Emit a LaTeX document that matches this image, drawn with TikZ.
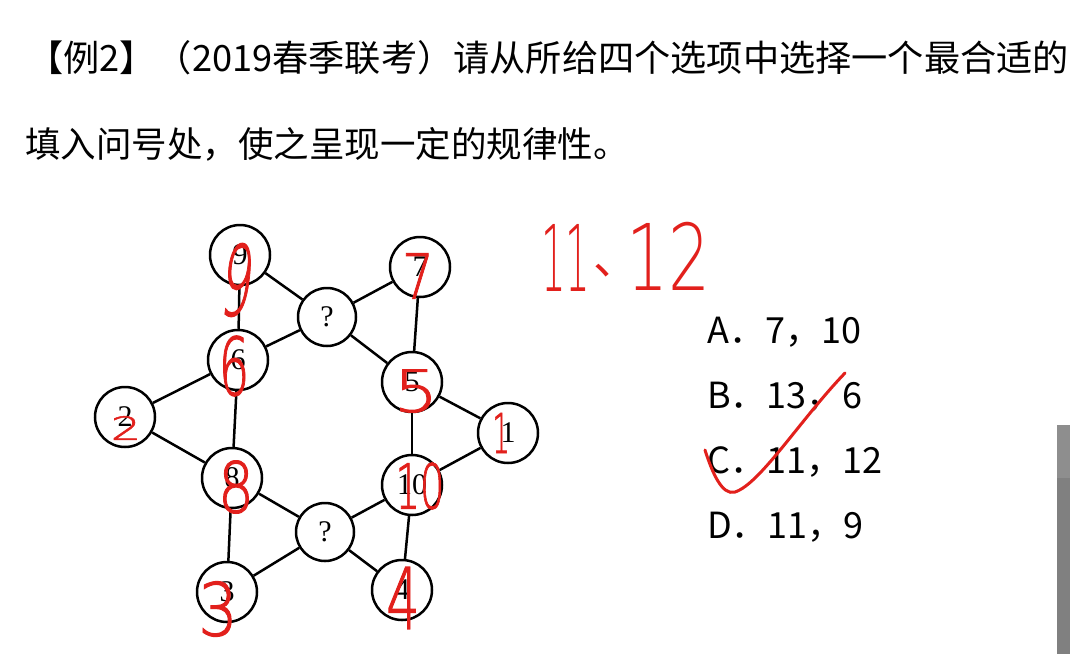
\documentclass[tikz,border=0pt]{standalone}
\usepackage{fontspec}
\setmainfont{Liberation Serif}
\newfontfamily\cjk{Noto Sans CJK SC}
\newfontfamily\handfont[FakeBold=1.5]{DejaVuSans-ExtraLight.ttf}
\newfontfamily\handbig{DejaVuSans-ExtraLight.ttf}
\definecolor{handred}{RGB}{226,32,28}
\definecolor{barlight}{RGB}{142,142,142}
\definecolor{bardark}{RGB}{128,128,128}
\begin{document}
\begin{tikzpicture}[x=1pt,y=-1pt,
  circ/.style={circle, draw, line width=2.5pt, minimum size=60pt, inner sep=0pt,
    font=\fontsize{30}{30}\selectfont},
  qcirc/.style={circ, minimum size=58pt},
  edge/.style={line width=2.5pt},
  hand/.style={text=handred, inner sep=0pt},
  title/.style={anchor=base west, inner sep=0pt},
  opt/.style={anchor=base west, inner sep=0pt, font=\cjk\fontsize{36}{36}\selectfont}]
\useasboundingbox (0,0) rectangle (1070,654);
\fill[white] (0,0) rectangle (1070,654);

% title
\node[title, font=\cjk\fontsize{36.2}{36}\selectfont] (t1) at (27,71) {【例2】（2019春季联考）请从所给四个选项中选择一个最合适的};
\node[title, font=\cjk\fontsize{35.5}{36}\selectfont] (t2) at (25,157) {填入问号处，使之呈现一定的规律性。};

% graph
\node[circ]  (g9)  at (240,255) {9};
\node[circ]  (g7)  at (420,267) {7};
\node[qcirc] (qt)  at (327,317) {?};
\node[circ]  (g6)  at (238,360) {6};
\node[circ]  (g5)  at (412,382) {5};
\node[circ]  (g2)  at (125,417) {2};
\node[circ]  (g1)  at (508,433) {1};
\node[circ]  (g8)  at (232,478) {8};
\node[circ]  (g10) at (412,485) {10};
\node[qcirc] (qb)  at (325,532) {?};
\node[circ]  (g3)  at (227,592) {3};
\node[circ]  (g4)  at (402,590) {4};

\draw[edge] (g9) -- (g6);
\draw[edge] (g9) -- (qt);
\draw[edge] (qt) -- (g7);
\draw[edge] (qt) -- (g6);
\draw[edge] (qt) -- (g5);
\draw[edge] (g7) -- (g5);
\draw[edge] (g6) -- (g2);
\draw[edge] (g6) -- (g8);
\draw[edge] (g2) -- (g8);
\draw[edge] (g5) -- (g1);
\draw[edge] (g5) -- (g10);
\draw[edge] (g1) -- (g10);
\draw[edge] (g8) -- (qb);
\draw[edge] (g8) -- (g3);
\draw[edge] (g10) -- (qb);
\draw[edge] (g10) -- (g4);
\draw[edge] (qb) -- (g3);
\draw[edge] (qb) -- (g4);

% options
\node[opt] (oa) at (707,343) {A．7，10};
\node[opt] (ob) at (707,408) {B．13，6};
\node[opt] (oc) at (707,473) {C．11，12};
\node[opt] (od) at (707,538) {D．11，9};

% handwritten annotations
\node[hand, font=\handfont\fontsize{97}{97}\selectfont, xscale=0.5, xslant=0.25] (h9) at (238,280) {9};
\node[hand, font=\handfont\fontsize{62}{62}\selectfont, xscale=0.8] (h7) at (418,276) {7};
\node[hand, font=\handfont\fontsize{80}{80}\selectfont, xscale=0.6] (h6) at (234,366) {6};
\node[hand, font=\handfont\fontsize{58}{58}\selectfont, xscale=1.2] (h5) at (416,391) {5};
\node[hand, font=\handfont\fontsize{32}{32}\selectfont, xscale=1.5] (h2) at (126,428) {2};
\node[hand, font=\handfont\fontsize{55}{55}\selectfont, xscale=0.5] (h1) at (501,433) {1};
\node[hand, font=\handfont\fontsize{70}{70}\selectfont, xscale=0.8] (h8) at (236,487) {8};
\node[hand, font=\handfont\fontsize{62}{62}\selectfont, xscale=0.62] (h10) at (420,486) {10};
\node[hand, font=\handfont\fontsize{73}{73}\selectfont, xscale=0.85] (h3) at (218,609) {3};
\node[hand, font=\handfont\fontsize{85}{85}\selectfont, xscale=0.62] (h4) at (403,598) {4};
\node[hand, font=\handbig\fontsize{92}{92}\selectfont, xscale=0.42, anchor=west] (h11) at (541,258) {11};
\node[hand, font=\cjk\fontsize{46}{46}\selectfont, anchor=center] (hsep) at (616,271) {、};
\node[hand, font=\handbig\fontsize{92}{92}\selectfont, xscale=0.72, anchor=west] (h12) at (626,256) {12};

% check mark
\draw[handred, line width=3pt, line cap=round]
  (705,450) .. controls (712,472) and (722,496) .. (735,492)
  .. controls (760,484) and (800,420) .. (845,373);

% grey bar at the right edge
\fill[barlight] (1057,425) rectangle (1070,478);
\fill[bardark] (1057,478) rectangle (1070,654);
\end{tikzpicture}
\end{document}
